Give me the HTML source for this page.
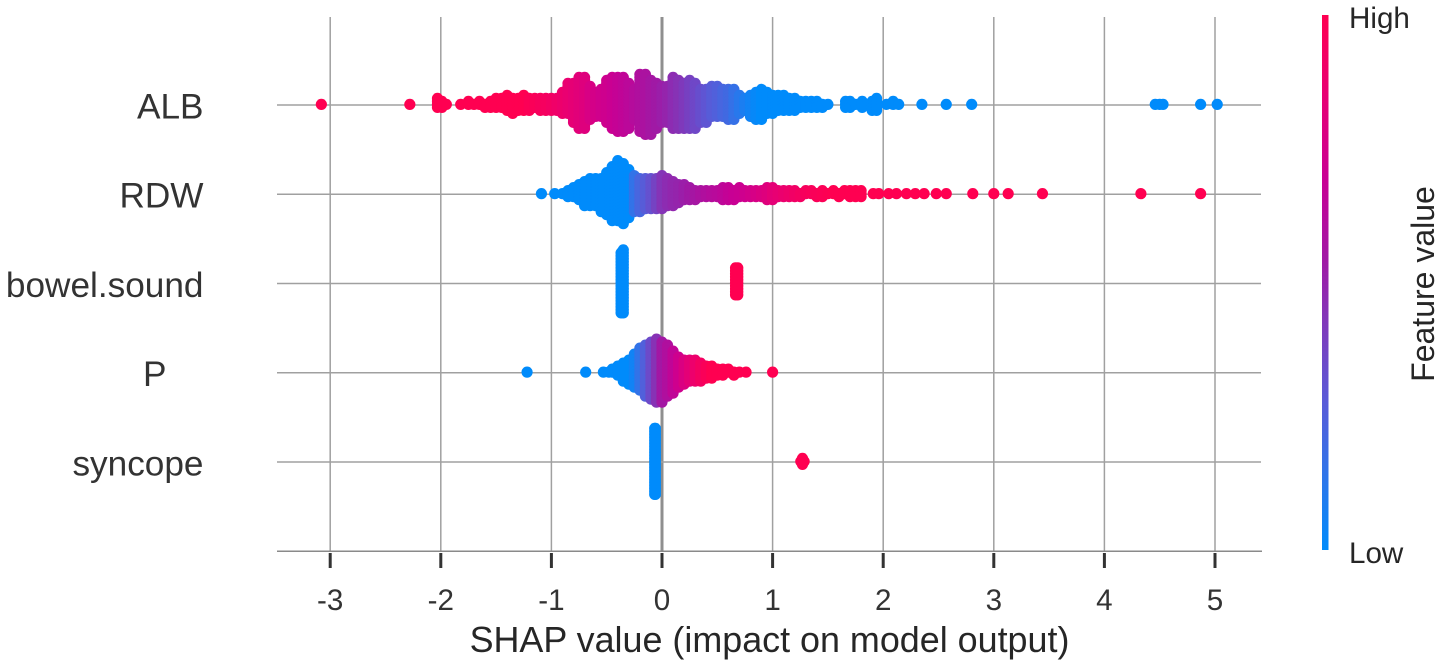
<!DOCTYPE html>
<html lang="en">
<head>
<meta charset="utf-8">
<title>SHAP summary plot</title>
<style>
html,body{margin:0;padding:0;background:#fff;width:1441px;height:667px;overflow:hidden}
svg{display:block;font-family:"Liberation Sans",Arial,sans-serif}
</style>
</head>
<body>
<svg id="chart" width="1441" height="667" viewBox="0 0 1441 667" xmlns="http://www.w3.org/2000/svg">
<rect width="1441" height="667" fill="#ffffff"/>
<g id="grid"></g>
<g id="dots"></g>
<g id="axis"></g>
<g id="ylabels"></g>
<text x="769.5" y="652" text-anchor="middle" font-size="35.9" fill="#262626">SHAP value (impact on model output)</text>
<defs>
<linearGradient id="cbar" x1="0" y1="1" x2="0" y2="0"></linearGradient>
</defs>
<rect x="1322" y="15" width="6.5" height="535" fill="url(#cbar)"/>
<text x="1349" y="28" font-size="29.6" fill="#262626">High</text>
<text x="1349" y="563" font-size="29.6" fill="#262626">Low</text>
<text transform="translate(1434,284) rotate(-90)" text-anchor="middle" font-size="32" fill="#262626">Feature value</text>
</svg>
<script>
const categories = ["ALB", "RDW", "bowel.sound", "P", "syncope"];
const tickValues = [-3, -2, -1, 0, 1, 2, 3, 4, 5];

/* Each beeswarm column: SHAP value, dots stacked above/below the row line, normalised feature value */
const albShap = [-3.08,-2.28,-2.03,-1.99,-1.95,-1.82,
  -1.75,-1.7,-1.65,-1.6,-1.55,-1.5,-1.45,-1.4,-1.35,-1.3,
  -1.25,-1.2,-1.15,-1.1,-1.05,-1,-.95,-.9,-.85,-.8,
  -.75,-.7,-.65,-.6,-.55,-.5,-.45,-.4,-.35,-.3,
  -.25,-.2,-.15,-.1,-.05,0,.05,.1,.15,.2,
  .25,.3,.35,.4,.45,.5,.55,.6,.65,.7,
  .75,.8,.85,.9,.95,1,1.05,1.1,1.15,1.2,
  1.25,1.3,1.35,1.4,1.45,1.5,
  1.66,1.7,1.75,1.81,1.9,1.94,2.03,2.09,2.14,
  2.35,2.57,2.8,4.46,4.5,4.53,4.87,5.02];
const albAbove = [0,0,2,1,0,0,
  1,0,1,0,1,2,2,3,2,2,
  3,2,2,2,2,2,2,4,7,7,
  9,9,6,4,5,8,9,9,9,7,
  5,10,10,8,7,6,6,9,8,7,
  8,7,5,5,6,6,5,5,5,3,
  2,3,4,5,4,3,3,3,2,2,
  1,1,1,1,0,0,
  1,1,0,1,1,2,0,1,0,
  0,0,0,0,0,0,0,0];
const albBelow = [0,0,1,1,0,0,
  0,0,0,1,1,1,1,2,3,2,
  2,2,1,2,2,2,2,3,3,6,
  8,8,5,4,4,6,8,9,9,8,
  5,9,10,10,8,6,6,8,8,8,
  8,8,6,6,4,4,4,5,5,3,
  2,4,5,5,3,3,2,2,2,2,
  1,1,1,1,1,0,
  1,1,0,1,2,2,0,0,0,
  0,0,0,0,0,0,0,0];
const albFeature = [1,1,1,1,1,1,
  1,1,1,1,1,1,1,1,1,1,
  1,.98,.97,.95,.94,.92,.9,.88,.86,.84,
  .82,.8,.77,.75,.73,.72,.7,.68,.66,.64,
  .62,.6,.58,.56,.54,.52,.5,.47,.45,.42,
  .39,.36,.33,.3,.27,.25,.22,.2,.16,.12,
  .08,.05,.02,0,0,0,0,0,0,0,
  0,0,0,0,0,0,
  0,0,0,0,0,0,0,0,0,
  0,0,0,0,0,0,0,0];

const rdwShap = [-1.09,-.97,
  -.9,-.85,-.8,-.75,-.7,-.65,-.6,-.55,-.5,-.45,
  -.4,-.35,-.3,-.25,-.2,-.15,-.1,-.05,0,.05,
  .1,.15,.2,.25,.3,.35,.4,.45,.5,.55,
  .6,.65,.7,.75,.8,.85,.9,.95,1,1.05,
  1.1,1.15,1.2,1.25,1.3,1.35,1.4,1.45,1.5,1.55,
  1.6,1.65,1.7,1.75,1.8,
  1.91,1.96,2.05,2.12,2.21,2.29,2.37,2.48,2.57,2.81,3,3.13,3.44,4.33,4.87];
const rdwAbove = [0,0,
  0,1,2,3,4,5,5,5,7,9,
  11,10,8,6,5,5,5,5,6,5,
  4,3,3,2,1,1,1,1,1,2,
  2,1,2,1,1,1,1,2,2,1,
  1,1,1,0,1,1,0,1,0,1,
  0,1,1,1,1,
  0,0,0,0,0,0,0,0,0,0,0,0,0,0,0];
const rdwBelow = [0,0,
  0,1,1,2,4,4,4,6,7,9,
  9,10,8,6,6,5,5,5,5,4,
  4,3,2,2,2,1,1,1,1,2,
  2,2,1,1,1,1,1,2,2,1,
  1,1,1,1,0,0,1,1,0,0,
  1,0,1,1,1,
  0,0,0,0,0,0,0,0,0,0,0,0,0,0,0];
const rdwFeature = [0,0,
  0,0,0,0,0,0,0,0,0,0,
  0,0,0,.15,.22,.27,.32,.38,.44,.47,
  .49,.5,.52,.54,.56,.58,.6,.62,.63,.65,
  .67,.69,.7,.72,.74,.76,.78,.8,.83,.85,
  .87,.89,.91,.93,.95,.96,.97,.98,.99,1,
  1,1,1,1,1,
  1,1,1,1,1,1,1,1,1,1,1,1,1,1,1];

const bowelShap = [-.37,-.35,.665,.685];
const bowelAbove = [10,11,5,5];
const bowelBelow = [10,10,4,4];
const bowelFeature = [0,0,1,1];

const pShap = [-1.22,-.69,-.53,-.48,
  -.45,-.4,-.35,-.3,-.25,-.2,-.15,-.1,-.05,0,
  .05,.1,.15,.2,.25,.3,.35,.4,.45,.5,
  .55,.6,.65,.7,.76,1];
const pAbove = [0,0,0,0,
  1,2,3,4,6,8,9,10,11,10,
  9,7,5,4,4,4,3,2,2,1,
  1,1,0,0,0,0];
const pBelow = [0,0,0,0,
  0,1,3,4,5,6,8,9,10,10,
  8,7,5,4,3,3,3,2,2,1,
  1,0,1,0,0,0];
const pFeature = [0,0,0,0,
  0,0,0,0,.05,.15,.25,.35,.45,.55,
  .6,.66,.72,.78,.83,.88,.93,.97,1,1,
  1,1,1,1,1,1];

const syncopeShap = [-.066,-.06,1.255,1.27,1.285];
const syncopeAbove = [11,11,0,1,0];
const syncopeBelow = [11,11,0,1,0];
const syncopeFeature = [0,0,1,1,1];

const NS = "http://www.w3.org/2000/svg";
const xAxis = v => 662 + 110.6 * v;
const rowAxis = i => 105 + 89.25 * i;
const colorStops = [[0,[0,139,251]],[.15,[50,115,232]],[.28,[90,90,215]],[.43,[130,55,185]],[.54,[160,25,165]],[.69,[200,0,148]],[.85,[232,0,115]],[1,[255,0,81]]];
function colorFor(f){
  for(let i=1;i<colorStops.length;i++){
    if(f<=colorStops[i][0]){
      const a=colorStops[i-1],b=colorStops[i],t=(f-a[0])/(b[0]-a[0]);
      const c=a[1].map((v,k)=>Math.round(v+(b[1][k]-v)*t));
      return "rgb("+c.join(",")+")";
    }
  }
  return "rgb(255,0,81)";
}
function make(tag,attrs,parent){
  const el=document.createElementNS(NS,tag);
  for(const k in attrs){el.setAttribute(k,attrs[k]);}
  parent.appendChild(el);
  return el;
}

const gridG=document.getElementById("grid");
const axisG=document.getElementById("axis");
const labelG=document.getElementById("ylabels");
const dotsG=document.getElementById("dots");
const grad=document.getElementById("cbar");

colorStops.forEach(s=>{
  const st=make("stop",{offset:s[0],"stop-color":colorFor(s[0])},grad);
  
  
});

tickValues.forEach(v=>{
  const line=make("line",{x1:xAxis(v),x2:xAxis(v),y1:17,y2:551,stroke:v===0?"#8f8f8f":"#a0a0a0","stroke-width":v===0?3:1.5},gridG);
  
  
  const tick=make("line",{x1:xAxis(v),x2:xAxis(v),y1:553,y2:568,stroke:"#333333","stroke-width":3},axisG);
  
  
  const lab=make("text",{x:xAxis(v),y:610,"text-anchor":"middle","font-size":29.6,fill:"#333333"},axisG);
  
  
  lab.textContent=String(v);
});

categories.forEach((c,i)=>{
  const line=make("line",{x1:277,x2:1261,y1:rowAxis(i),y2:rowAxis(i),stroke:"#a0a0a0","stroke-width":1.5},gridG);
  
  
  const lab=make("text",{x:c==="P"?166.5:203.5,y:rowAxis(i)+13.3,"text-anchor":"end","font-size":35.2,fill:"#333333"},labelG);
  
  
  lab.textContent=c;
});
const baseLine=make("line",{x1:277,x2:1262,y1:rowAxis(5),y2:rowAxis(5),stroke:"#8a8a8a","stroke-width":1.5},axisG);



function drawRow(rowIndex,shap,above,below,feature){
  const g=make("g",{},dotsG);
  
  
  shap.forEach((s,i)=>{
    const fill=colorFor(feature[i]);
    for(let j=-above[i];j<=below[i];j++){
      const dot=make("circle",{cx:xAxis(s),cy:rowAxis(rowIndex)-.6+j*3,r:5.6,fill:fill},g);
      
      
    }
  });
}
drawRow(0,albShap,albAbove,albBelow,albFeature);
drawRow(1,rdwShap,rdwAbove,rdwBelow,rdwFeature);
drawRow(2,bowelShap,bowelAbove,bowelBelow,bowelFeature);
drawRow(3,pShap,pAbove,pBelow,pFeature);
drawRow(4,syncopeShap,syncopeAbove,syncopeBelow,syncopeFeature);
</script>
</body>
</html>
